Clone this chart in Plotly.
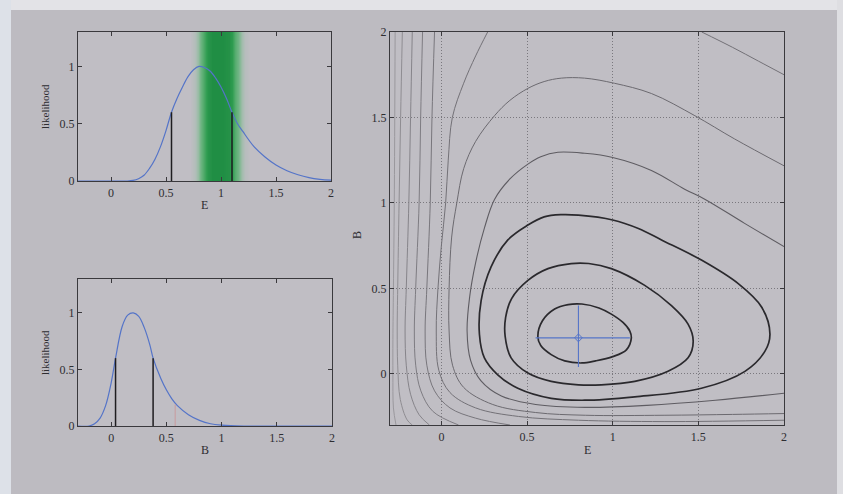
import plotly.graph_objects as go

# ---------------- data ----------------
# top-left panel: likelihood as a function of E
E_grid = [-0.3, 0.0, 0.15, 0.2, 0.25, 0.3, 0.35, 0.4, 0.45, 0.5, 0.55, 0.6, 0.65, 0.7, 0.75,
          0.8, 0.85, 0.9, 0.95, 1.0, 1.05, 1.1, 1.15, 1.2, 1.3, 1.4, 1.5, 1.6, 1.7, 1.8, 1.9, 2.0]
E_like = [0.0, 0.0, 0.0, 0.005, 0.02, 0.05, 0.11, 0.19, 0.3, 0.44, 0.6, 0.72, 0.82, 0.91, 0.97,
          1.0, 0.99, 0.96, 0.9, 0.82, 0.72, 0.6, 0.5, 0.43, 0.3, 0.21, 0.14, 0.09, 0.055, 0.03, 0.015, 0.007]
E_interval = [0.55, 1.1]
E_interval_like = [0.6, 0.6]
band_E = [0.72, 0.76, 0.79, 0.82, 0.85, 0.88, 0.92, 0.97, 1.02, 1.07, 1.1, 1.13, 1.16, 1.19, 1.22, 1.26]
band_strength = [0.0, 0.08, 0.22, 0.45, 0.72, 0.9, 1.0, 1.0, 1.0, 0.95, 0.82, 0.58, 0.35, 0.16, 0.05, 0.0]
band_B = [0.02, 1.27]

# bottom-left panel: likelihood as a function of B
B_grid = [-0.3, -0.2, -0.15, -0.1, -0.05, 0.0, 0.04, 0.1, 0.15, 0.2, 0.25, 0.3, 0.35, 0.38,
          0.45, 0.5, 0.55, 0.6, 0.7, 0.8, 0.9, 1.0, 1.2, 2.0]
B_like = [0.0, 0.0, 0.02, 0.07, 0.18, 0.38, 0.6, 0.88, 0.98, 1.0, 0.97, 0.87, 0.72, 0.6,
          0.42, 0.32, 0.24, 0.18, 0.1, 0.05, 0.02, 0.008, 0.0, 0.0]
B_interval = [0.04, 0.38]
B_interval_like = [0.6, 0.6]
B_red = [0.58]
B_red_like = [0.19]

# right panel: best fit with its intervals
best_E = [0.8]
best_B = [0.21]
err_E_minus = [0.25]
err_E_plus = [0.3]
err_B_minus = [0.17]
err_B_plus = [0.19]

# contour lines (E, B)
contour_1 = [(0.563, 0.22), (0.59, 0.31), (0.661, 0.379), (0.74, 0.405), (0.82, 0.408), (0.92, 0.385),
             (0.992, 0.349), (1.06, 0.30), (1.1, 0.25), (1.109, 0.211), (1.08, 0.14), (1.0, 0.10),
             (0.9, 0.075), (0.82, 0.063), (0.72, 0.075), (0.641, 0.112), (0.58, 0.165), (0.563, 0.22)]
contour_2 = [(0.372, 0.22), (0.375, 0.33), (0.41, 0.44), (0.505, 0.546), (0.622, 0.615), (0.758, 0.645),
             (0.86, 0.645), (0.992, 0.615), (1.187, 0.517), (1.343, 0.398), (1.44, 0.29), (1.47, 0.19),
             (1.44, 0.093), (1.323, 0.014), (1.129, -0.045), (0.934, -0.065), (0.8, -0.065),
             (0.641, -0.045), (0.505, 0.004), (0.407, 0.093), (0.372, 0.22)]
contour_3 = [(0.222, 0.231), (0.232, 0.428), (0.29, 0.625), (0.388, 0.783), (0.505, 0.87), (0.6, 0.918),
             (0.7, 0.931), (0.8, 0.928), (1.0, 0.9), (1.15, 0.85), (1.285, 0.783), (1.518, 0.665),
             (1.733, 0.527), (1.87, 0.389), (1.918, 0.231), (1.889, 0.132), (1.772, 0.014),
             (1.518, -0.085), (1.129, -0.135), (0.836, -0.155), (0.641, -0.144), (0.446, -0.085),
             (0.329, -0.006), (0.251, 0.093), (0.222, 0.231)]
contour_4 = [(2.0, 0.744), (1.77, 0.88), (1.54, 1.02), (1.42, 1.08), (1.226, 1.19), (1.0, 1.266),
             (0.836, 1.29), (0.68, 1.296), (0.58, 1.27), (0.505, 1.227), (0.4, 1.14), (0.31, 1.02),
             (0.251, 0.852), (0.2, 0.65), (0.165, 0.45), (0.15, 0.25), (0.17, 0.08), (0.23, -0.04),
             (0.35, -0.13), (0.55, -0.18), (0.84, -0.197), (1.2, -0.185), (1.6, -0.155), (2.0, -0.114)]
contour_5 = [(2.0, 1.217), (1.71, 1.375), (1.48, 1.51), (1.226, 1.64), (1.01, 1.70), (0.836, 1.73),
             (0.7, 1.73), (0.6, 1.71), (0.505, 1.67), (0.4, 1.6), (0.31, 1.51), (0.2, 1.36),
             (0.13, 1.2), (0.09, 1.0), (0.06, 0.8), (0.045, 0.5), (0.045, 0.25), (0.065, 0.05),
             (0.13, -0.08), (0.3, -0.18), (0.55, -0.227), (0.84, -0.243), (1.3, -0.243),
             (1.7, -0.238), (2.0, -0.233)]
contour_6 = [(0.27, 2.0), (0.2, 1.86), (0.13, 1.7), (0.064, 1.5), (0.04, 1.25), (0.025, 1.0),
             (0.0, 0.75), (-0.02, 0.5), (-0.03, 0.25), (-0.015, 0.02), (0.05, -0.11), (0.2, -0.2),
             (0.45, -0.25), (0.8, -0.272), (1.3, -0.28), (2.0, -0.272)]
contour_6b = [(1.52, 2.0), (1.7, 1.91), (1.85, 1.83), (2.0, 1.75)]
contour_7 = [(-0.04, 2.0), (-0.055, 1.5), (-0.065, 1.0), (-0.085, 0.5), (-0.095, 0.25), (-0.085, 0.05),
             (-0.04, -0.1), (0.05, -0.2), (0.2, -0.26), (0.4, -0.3)]
contour_8 = [(-0.11, 2.0), (-0.121, 1.5), (-0.13, 1.0), (-0.15, 0.5), (-0.158, 0.25), (-0.15, 0.05),
             (-0.12, -0.1), (-0.05, -0.22), (0.1, -0.3)]
contour_9 = [(-0.17, 2.0), (-0.18, 1.5), (-0.19, 1.0), (-0.205, 0.5), (-0.212, 0.25), (-0.205, 0.05),
             (-0.18, -0.12), (-0.13, -0.24), (-0.07, -0.3)]
contour_10 = [(-0.228, 2.0), (-0.238, 1.5), (-0.247, 1.0), (-0.255, 0.5), (-0.258, 0.25), (-0.255, 0.05),
              (-0.24, -0.15), (-0.2, -0.27), (-0.17, -0.3)]
contour_11 = [(-0.27, 2.0), (-0.275, 1.0), (-0.28, 0.5), (-0.283, 0.2), (-0.283, 0.0), (-0.28, -0.2),
              (-0.265, -0.3)]

ticks_main = [0, 0.5, 1, 1.5, 2]
ticks_like = [0, 0.5, 1]

# ---------------- styling ----------------
PANEL = "#bdbbc1"
PLOTBG = "#c0bec4"
INK = "#2e2d31"
BLUE = "#5474c8"
FONT = "Liberation Serif"

fig = go.Figure()

# green band (top-left)
fig.add_trace(go.Heatmap(
    x=band_E, y=band_B, z=[band_strength, band_strength], zsmooth="best", showscale=False,
    colorscale=[[0, "rgba(80,190,110,0)"], [0.4, "rgba(60,175,90,0.6)"], [0.8, "rgba(40,155,75,0.95)"],
                [1, "rgba(32,142,68,1)"]],
    zmin=0, zmax=1, hoverinfo="skip", xaxis="x", yaxis="y"))


def vsegs(xs, ys):
    sx, sy = [], []
    for a, b in zip(xs, ys):
        sx += [a, a, None]
        sy += [0, b, None]
    return sx, sy


# top-left curve and interval
fig.add_trace(go.Scatter(x=E_grid, y=E_like, mode="lines", line=dict(color=BLUE, width=1.2, shape="spline"),
                         xaxis="x", yaxis="y"))
sx, sy = vsegs(E_interval, E_interval_like)
fig.add_trace(go.Scatter(x=sx, y=sy, mode="lines", line=dict(color="#1e1d20", width=1.5), xaxis="x", yaxis="y"))

# bottom-left curve and interval
fig.add_trace(go.Scatter(x=B_grid, y=B_like, mode="lines", line=dict(color=BLUE, width=1.2, shape="spline"),
                         xaxis="x2", yaxis="y2"))
sx, sy = vsegs(B_interval, B_interval_like)
fig.add_trace(go.Scatter(x=sx, y=sy, mode="lines", line=dict(color="#1e1d20", width=1.5), xaxis="x2", yaxis="y2"))
sx, sy = vsegs(B_red, B_red_like)
fig.add_trace(go.Scatter(x=sx, y=sy, mode="lines", line=dict(color="#c89a9e", width=1), xaxis="x2", yaxis="y2"))

# contours (right)
contour_styles = [
    (contour_11, "#9a989d", 1.0),
    (contour_10, "#8f8d92", 1.0),
    (contour_9, "#86848a", 1.0),
    (contour_8, "#7e7c82", 1.0),
    (contour_7, "#78767c", 1.0),
    (contour_6, "#737177", 1.0),
    (contour_6b, "#737177", 1.0),
    (contour_5, "#6c6a70", 1.0),
    (contour_4, "#5e5c62", 1.1),
    (contour_3, "#2a292d", 1.7),
    (contour_2, "#2a292d", 1.7),
    (contour_1, "#2a292d", 1.7),
]
for pts, col, w in contour_styles:
    fig.add_trace(go.Scatter(x=[p[0] for p in pts], y=[p[1] for p in pts], mode="lines",
                             line=dict(color=col, width=w, shape="spline", smoothing=1.0),
                             xaxis="x3", yaxis="y3"))

fig.add_trace(go.Scatter(
    x=best_E, y=best_B, mode="markers",
    marker=dict(symbol="diamond-open", size=6, color=BLUE, line=dict(width=1)),
    error_x=dict(type="data", symmetric=False, array=err_E_plus, arrayminus=err_E_minus,
                 color=BLUE, thickness=1.1, width=0),
    error_y=dict(type="data", symmetric=False, array=err_B_plus, arrayminus=err_B_minus,
                 color=BLUE, thickness=1.1, width=0),
    xaxis="x3", yaxis="y3"))

tickfont = dict(family=FONT, size=12, color=INK)
axis_common = dict(showline=True, linecolor="#3a393d", linewidth=1.2, mirror="ticks", ticks="inside",
                   ticklen=4, tickcolor="#3a393d", zeroline=False, tickfont=tickfont, showgrid=False,
                   automargin=False)
grid_style = dict(showgrid=True, gridcolor="#7a787e", griddash="1px,2px", gridwidth=1)

W, H = 843, 494


def dom_x(a, b):
    return [a / W, b / W]


def dom_y(top, bottom):
    return [(H - bottom) / H, (H - top) / H]


def label(text, px, py, angle=0, size=12):
    return dict(text=text, x=px / W, y=(H - py) / H, xref="paper", yref="paper", showarrow=False,
                textangle=angle, xanchor="center", yanchor="middle",
                font=dict(family=FONT, size=size, color=INK))


fig.update_layout(
    width=W, height=H, margin=dict(l=0, r=0, t=0, b=0, pad=0),
    paper_bgcolor=PANEL, plot_bgcolor=PLOTBG, showlegend=False,
    xaxis=dict(domain=dom_x(78, 331), anchor="y", range=[-0.3, 2], tickmode="array", tickvals=ticks_main,
               **axis_common),
    yaxis=dict(domain=dom_y(32, 181), anchor="x", range=[0, 1.3], tickmode="array", tickvals=ticks_like,
               **axis_common),
    xaxis2=dict(domain=dom_x(78, 332), anchor="y2", range=[-0.3, 2], tickmode="array", tickvals=ticks_main,
                **axis_common),
    yaxis2=dict(domain=dom_y(279, 426), anchor="x2", range=[0, 1.3], tickmode="array", tickvals=ticks_like,
                **axis_common),
    xaxis3=dict(domain=dom_x(390, 784), anchor="y3", range=[-0.3, 2], tickmode="array", tickvals=ticks_main,
                **{**axis_common, **grid_style}),
    yaxis3=dict(domain=dom_y(32, 425), anchor="x3", range=[-0.3, 2], tickmode="array", tickvals=ticks_main,
                **{**axis_common, **grid_style}),
    annotations=[
        label("E", 204, 205),
        label("likelihood", 45, 107, angle=-90, size=11),
        label("B", 205, 450),
        label("likelihood", 45, 353, angle=-90, size=11),
        label("E", 587, 450),
        label("B", 357, 235, angle=-90),
    ],
    shapes=[
        dict(type="rect", xref="paper", yref="paper", x0=0, x1=1, y0=(H - 10) / H, y1=1,
             fillcolor="#e3e3e7", line=dict(width=0), layer="below"),
        dict(type="rect", xref="paper", yref="paper", x0=0, x1=11 / W, y0=0, y1=1,
             fillcolor="#dde1e8", line=dict(width=0), layer="below"),
        dict(type="rect", xref="paper", yref="paper", x0=837 / W, x1=1, y0=0, y1=1,
             fillcolor="#dedee2", line=dict(width=0), layer="below"),
    ],
)

fig.write_html("out.html")
